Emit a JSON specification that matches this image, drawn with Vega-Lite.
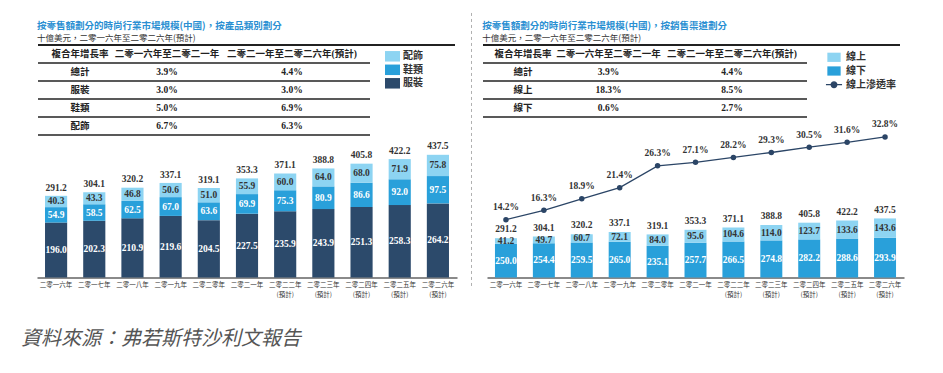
{
  "$schema": "https://vega.github.io/schema/vega-lite/v6.json",
  "background": "white",
  "padding": {"left": 21, "top": 12, "right": 5, "bottom": 5},
  "bounds": "flush",
  "spacing": 14.5,
  "config": {
    "view": {"stroke": null},
    "font": "Noto Sans CJK TC",
    "title": {"anchor": "start", "font": "Noto Sans CJK TC", "fontSize": 9.5, "fontWeight": "bold", "color": "#2a8fd2", "subtitleFont": "Noto Sans CJK TC", "subtitleFontSize": 8.5, "subtitleColor": "#333333", "subtitlePadding": 3.5, "offset": 2}
  },
  "title": {"text": "資料來源：弗若斯特沙利文報告", "orient": "bottom", "anchor": "start", "frame": "bounds", "fontSize": 20, "fontStyle": "italic", "fontWeight": "normal", "color": "#555555", "offset": 31, "dx": -16},
  "resolve": {"scale": {"color": "independent"}, "legend": {"color": "independent"}},
  "datasets": {
    "tabL": [
      {"r": 0, "c": 0, "t": "複合年增長率"}, {"r": 0, "c": 1, "t": "二零一六年至二零二一年"}, {"r": 0, "c": 2, "t": "二零二一年至二零二六年(預計)"},
      {"r": 1, "c": 0, "t": "總計"}, {"r": 1, "c": 1, "t": "3.9%"}, {"r": 1, "c": 2, "t": "4.4%"},
      {"r": 2, "c": 0, "t": "服裝"}, {"r": 2, "c": 1, "t": "3.0%"}, {"r": 2, "c": 2, "t": "3.0%"},
      {"r": 3, "c": 0, "t": "鞋類"}, {"r": 3, "c": 1, "t": "5.0%"}, {"r": 3, "c": 2, "t": "6.9%"},
      {"r": 4, "c": 0, "t": "配飾"}, {"r": 4, "c": 1, "t": "6.7%"}, {"r": 4, "c": 2, "t": "6.3%"}
    ],
    "tabR": [
      {"r": 0, "c": 0, "t": "複合年增長率"}, {"r": 0, "c": 1, "t": "二零一六年至二零二一年"}, {"r": 0, "c": 2, "t": "二零二一年至二零二六年(預計)"},
      {"r": 1, "c": 0, "t": "總計"}, {"r": 1, "c": 1, "t": "3.9%"}, {"r": 1, "c": 2, "t": "4.4%"},
      {"r": 2, "c": 0, "t": "線上"}, {"r": 2, "c": 1, "t": "18.3%"}, {"r": 2, "c": 2, "t": "8.5%"},
      {"r": 3, "c": 0, "t": "線下"}, {"r": 3, "c": 1, "t": "0.6%"}, {"r": 3, "c": 2, "t": "2.7%"}
    ],
    "years": [
      {"year": "二零一六年", "total": 291.2, "pct": 0.142},
      {"year": "二零一七年", "total": 304.1, "pct": 0.163},
      {"year": "二零一八年", "total": 320.2, "pct": 0.189},
      {"year": "二零一九年", "total": 337.1, "pct": 0.214},
      {"year": "二零二零年", "total": 319.1, "pct": 0.263},
      {"year": "二零二一年", "total": 353.3, "pct": 0.271},
      {"year": "二零二二年\n(預計)", "total": 371.1, "pct": 0.282},
      {"year": "二零二三年\n(預計)", "total": 388.8, "pct": 0.293},
      {"year": "二零二四年\n(預計)", "total": 405.8, "pct": 0.305},
      {"year": "二零二五年\n(預計)", "total": 422.2, "pct": 0.316},
      {"year": "二零二六年\n(預計)", "total": 437.5, "pct": 0.328}
    ],
    "barL": [
      {"year": "二零一六年", "series": "服裝", "k": 1, "v": 196.0}, {"year": "二零一六年", "series": "鞋類", "k": 2, "v": 54.9}, {"year": "二零一六年", "series": "配飾", "k": 3, "v": 40.3},
      {"year": "二零一七年", "series": "服裝", "k": 1, "v": 202.3}, {"year": "二零一七年", "series": "鞋類", "k": 2, "v": 58.5}, {"year": "二零一七年", "series": "配飾", "k": 3, "v": 43.3},
      {"year": "二零一八年", "series": "服裝", "k": 1, "v": 210.9}, {"year": "二零一八年", "series": "鞋類", "k": 2, "v": 62.5}, {"year": "二零一八年", "series": "配飾", "k": 3, "v": 46.8},
      {"year": "二零一九年", "series": "服裝", "k": 1, "v": 219.6}, {"year": "二零一九年", "series": "鞋類", "k": 2, "v": 67.0}, {"year": "二零一九年", "series": "配飾", "k": 3, "v": 50.6},
      {"year": "二零二零年", "series": "服裝", "k": 1, "v": 204.5}, {"year": "二零二零年", "series": "鞋類", "k": 2, "v": 63.6}, {"year": "二零二零年", "series": "配飾", "k": 3, "v": 51.0},
      {"year": "二零二一年", "series": "服裝", "k": 1, "v": 227.5}, {"year": "二零二一年", "series": "鞋類", "k": 2, "v": 69.9}, {"year": "二零二一年", "series": "配飾", "k": 3, "v": 55.9},
      {"year": "二零二二年\n(預計)", "series": "服裝", "k": 1, "v": 235.9}, {"year": "二零二二年\n(預計)", "series": "鞋類", "k": 2, "v": 75.3}, {"year": "二零二二年\n(預計)", "series": "配飾", "k": 3, "v": 60.0},
      {"year": "二零二三年\n(預計)", "series": "服裝", "k": 1, "v": 243.9}, {"year": "二零二三年\n(預計)", "series": "鞋類", "k": 2, "v": 80.9}, {"year": "二零二三年\n(預計)", "series": "配飾", "k": 3, "v": 64.0},
      {"year": "二零二四年\n(預計)", "series": "服裝", "k": 1, "v": 251.3}, {"year": "二零二四年\n(預計)", "series": "鞋類", "k": 2, "v": 86.6}, {"year": "二零二四年\n(預計)", "series": "配飾", "k": 3, "v": 68.0},
      {"year": "二零二五年\n(預計)", "series": "服裝", "k": 1, "v": 258.3}, {"year": "二零二五年\n(預計)", "series": "鞋類", "k": 2, "v": 92.0}, {"year": "二零二五年\n(預計)", "series": "配飾", "k": 3, "v": 71.9},
      {"year": "二零二六年\n(預計)", "series": "服裝", "k": 1, "v": 264.2}, {"year": "二零二六年\n(預計)", "series": "鞋類", "k": 2, "v": 97.5}, {"year": "二零二六年\n(預計)", "series": "配飾", "k": 3, "v": 75.8}
    ],
    "barR": [
      {"year": "二零一六年", "series": "線下", "k": 1, "v": 250.0}, {"year": "二零一六年", "series": "線上", "k": 2, "v": 41.2},
      {"year": "二零一七年", "series": "線下", "k": 1, "v": 254.4}, {"year": "二零一七年", "series": "線上", "k": 2, "v": 49.7},
      {"year": "二零一八年", "series": "線下", "k": 1, "v": 259.5}, {"year": "二零一八年", "series": "線上", "k": 2, "v": 60.7},
      {"year": "二零一九年", "series": "線下", "k": 1, "v": 265.0}, {"year": "二零一九年", "series": "線上", "k": 2, "v": 72.1},
      {"year": "二零二零年", "series": "線下", "k": 1, "v": 235.1}, {"year": "二零二零年", "series": "線上", "k": 2, "v": 84.0},
      {"year": "二零二一年", "series": "線下", "k": 1, "v": 257.7}, {"year": "二零二一年", "series": "線上", "k": 2, "v": 95.6},
      {"year": "二零二二年\n(預計)", "series": "線下", "k": 1, "v": 266.5}, {"year": "二零二二年\n(預計)", "series": "線上", "k": 2, "v": 104.6},
      {"year": "二零二三年\n(預計)", "series": "線下", "k": 1, "v": 274.8}, {"year": "二零二三年\n(預計)", "series": "線上", "k": 2, "v": 114.0},
      {"year": "二零二四年\n(預計)", "series": "線下", "k": 1, "v": 282.2}, {"year": "二零二四年\n(預計)", "series": "線上", "k": 2, "v": 123.7},
      {"year": "二零二五年\n(預計)", "series": "線下", "k": 1, "v": 288.6}, {"year": "二零二五年\n(預計)", "series": "線上", "k": 2, "v": 133.6},
      {"year": "二零二六年\n(預計)", "series": "線下", "k": 1, "v": 293.9}, {"year": "二零二六年\n(預計)", "series": "線上", "k": 2, "v": 143.6}
    ]
  },
  "hconcat": [
    {
      "width": 420,
      "height": 232.5,
      "title": {"text": "按零售額劃分的時尚行業市場規模(中國)，按產品類別劃分", "subtitle": "十億美元，二零一六年至二零二六年(預計)"},
      "layer": [
        {
          "data": {"name": "tabL"},
          "layer": [
            {
              "mark": {"type": "text", "font": "Liberation Serif, Noto Sans CJK TC", "fontSize": 9.5, "fontWeight": "bold", "color": "#222222"},
              "encoding": {
                "x": {"field": "c", "type": "quantitative", "scale": {"domain": [-1, 0, 1, 2, 3, 4], "range": [1, 43, 130, 255, 333, 418], "zero": false, "nice": false}, "axis": null},
                "y": {"field": "r", "type": "quantitative", "scale": {"domain": [-0.5, 12.4167], "reverse": true, "zero": false, "nice": false}, "axis": null},
                "text": {"field": "t"}
              }
            },
            {
              "transform": [{"filter": "datum.c == 0"}],
              "mark": {"type": "rule", "color": "#222222", "strokeWidth": 1.3, "yOffset": 9},
              "encoding": {
                "x": {"datum": -1, "type": "quantitative"},
                "x2": {"datum": 3},
                "y": {"field": "r", "type": "quantitative"}
              }
            },
            {
              "mark": {"type": "rule", "color": "#222222", "strokeWidth": 1.3},
              "encoding": {
                "x": {"datum": -1, "type": "quantitative"},
                "x2": {"datum": 4},
                "y": {"datum": -0.5, "type": "quantitative"}
              }
            }
          ]
        },
        {
          "layer": [
            {
              "data": {"name": "barL"},
              "mark": {"type": "bar"},
              "encoding": {
                "x": {"field": "year", "type": "nominal", "sort": null,
                  "scale": {"domain": ["二零一六年", "二零一七年", "二零一八年", "二零一九年", "二零二零年", "二零二一年", "二零二二年\n(預計)", "二零二三年\n(預計)", "二零二四年\n(預計)", "二零二五年\n(預計)", "二零二六年\n(預計)"], "paddingInner": 0.42, "paddingOuter": 0.21},
                  "axis": {"orient": "bottom", "title": null, "domainColor": "#8a8a8a", "domainWidth": 2, "ticks": false, "grid": false, "labelAngle": 0, "labelFont": "Noto Sans CJK TC", "labelFontSize": 6.5, "labelColor": "#333333", "labelPadding": 4, "labelLineHeight": 9.5, "labelOverlap": false, "labelExpr": "split(datum.label, '\\n')"}},
                "y": {"field": "v", "type": "quantitative", "stack": "zero", "scale": {"domain": [0, 829], "nice": false}, "axis": null},
                "color": {"field": "series", "type": "nominal",
                  "scale": {"domain": ["配飾", "鞋類", "服裝"], "range": ["#8dd4f2", "#29a0da", "#2c4a6b"]},
                  "legend": {"title": null, "orient": "none", "legendX": 348, "legendY": 3.8, "direction": "vertical", "symbolType": "M-1,-0.7H1V0.7H-1Z", "symbolSize": 225, "symbolStrokeWidth": 0, "labelFont": "Noto Sans CJK TC", "labelFontSize": 10, "labelFontWeight": "bold", "labelColor": "#333333", "labelOffset": 3, "rowPadding": 0.5, "padding": 0}},
                "order": {"field": "k", "type": "quantitative"}
              }
            },
            {
              "data": {"name": "barL"},
              "mark": {"type": "text", "font": "Liberation Serif", "fontSize": 9.5, "fontWeight": "bold"},
              "encoding": {
                "x": {"field": "year", "type": "nominal", "sort": null},
                "y": {"field": "v", "type": "quantitative", "stack": "zero", "bandPosition": 0.5},
                "detail": {"field": "series"},
                "order": {"field": "k", "type": "quantitative"},
                "text": {"field": "v", "format": ".1f"},
                "color": {"condition": {"test": "datum.series === '配飾'", "value": "#333333"}, "value": "white"}
              }
            },
            {
              "data": {"name": "years"},
              "mark": {"type": "text", "font": "Liberation Serif", "fontSize": 9.5, "fontWeight": "bold", "color": "#333333", "baseline": "middle", "dy": -8.3},
              "encoding": {
                "x": {"field": "year", "type": "nominal", "sort": null},
                "y": {"field": "total", "type": "quantitative"},
                "text": {"field": "total", "format": ".1f"}
              }
            }
          ]
        }
      ],
      "resolve": {"scale": {"x": "independent", "y": "independent"}}
    },
    {
      "width": 1,
      "height": 232.5,
      "data": {"values": [{}]},
      "mark": {"type": "rule", "color": "#b0b0b0", "strokeWidth": 1, "strokeDash": [3, 3]},
      "encoding": {
        "x": {"datum": 0, "type": "quantitative", "scale": {"domain": [0, 1], "zero": false, "nice": false}, "axis": null},
        "y": {"datum": -2.28, "type": "quantitative", "scale": {"domain": [-0.5, 12.4167], "reverse": true, "zero": false, "nice": false}, "axis": null},
        "y2": {"datum": 13.06}
      }
    },
    {
      "width": 417,
      "height": 232.5,
      "title": {"text": "按零售額劃分的時尚行業市場規模(中國)，按銷售渠道劃分", "subtitle": "十億美元，二零一六年至二零二六年(預計)"},
      "layer": [
        {
          "data": {"name": "tabR"},
          "layer": [
            {
              "mark": {"type": "text", "font": "Liberation Serif, Noto Sans CJK TC", "fontSize": 9.5, "fontWeight": "bold", "color": "#222222"},
              "encoding": {
                "x": {"field": "c", "type": "quantitative", "scale": {"domain": [-1, 0, 1, 2, 3, 4], "range": [-4, 36, 121.5, 245, 320, 413], "zero": false, "nice": false}, "axis": null},
                "y": {"field": "r", "type": "quantitative", "scale": {"domain": [-0.5, 12.4167], "reverse": true, "zero": false, "nice": false}, "axis": null},
                "text": {"field": "t"}
              }
            },
            {
              "transform": [{"filter": "datum.c == 0"}],
              "mark": {"type": "rule", "color": "#222222", "strokeWidth": 1.3, "yOffset": 9},
              "encoding": {
                "x": {"datum": -1, "type": "quantitative"},
                "x2": {"datum": 3},
                "y": {"field": "r", "type": "quantitative"}
              }
            },
            {
              "mark": {"type": "rule", "color": "#222222", "strokeWidth": 1.3},
              "encoding": {
                "x": {"datum": -1, "type": "quantitative"},
                "x2": {"datum": 4},
                "y": {"datum": -0.5, "type": "quantitative"}
              }
            }
          ]
        },
        {
          "layer": [
            {
              "layer": [
                {
                  "data": {"name": "barR"},
                  "mark": {"type": "bar"},
                  "encoding": {
                    "x": {"field": "year", "type": "nominal", "sort": null,
                      "scale": {"domain": ["二零一六年", "二零一七年", "二零一八年", "二零一九年", "二零二零年", "二零二一年", "二零二二年\n(預計)", "二零二三年\n(預計)", "二零二四年\n(預計)", "二零二五年\n(預計)", "二零二六年\n(預計)"], "paddingInner": 0.42, "paddingOuter": 0.21},
                      "axis": {"orient": "bottom", "title": null, "domainColor": "#8a8a8a", "domainWidth": 2, "ticks": false, "grid": false, "labelAngle": 0, "labelFont": "Noto Sans CJK TC", "labelFontSize": 6.5, "labelColor": "#333333", "labelPadding": 4, "labelLineHeight": 9.5, "labelOverlap": false, "labelExpr": "split(datum.label, '\\n')"}},
                    "y": {"field": "v", "type": "quantitative", "stack": "zero", "scale": {"domain": [0, 1722], "nice": false}, "axis": null},
                    "color": {"field": "series", "type": "nominal",
                      "scale": {"domain": ["線上", "線下", "線上滲透率"], "range": ["#8dd4f2", "#29a0da", "#2b4566"]},
                      "legend": {"title": null, "orient": "none", "legendX": 339, "legendY": 4.3, "direction": "vertical", "symbolType": "M-0.95,-0.66H0.95V0.66H-0.95Z", "symbolSize": 196, "symbolStrokeWidth": 0, "labelFont": "Noto Sans CJK TC", "labelFontSize": 10, "labelFontWeight": "bold", "labelColor": "#333333", "labelOffset": 4, "rowPadding": 0.7, "padding": 0,
                        "encode": {"symbols": {"update": {
                          "shape": {"signal": "datum.value === '線上滲透率' ? 'M-1.15,0H1.15M-0.4,0A0.4,0.4,0,1,1,0.4,0A0.4,0.4,0,1,1,-0.4,0Z' : 'M-0.95,-0.66H0.95V0.66H-0.95Z'"},
                          "stroke": {"signal": "datum.value === '線上滲透率' ? '#2b4566' : null"},
                          "strokeWidth": {"value": 1.3}
                        }}}}},
                    "order": {"field": "k", "type": "quantitative"}
                  }
                },
                {
                  "data": {"name": "barR"},
                  "mark": {"type": "text", "font": "Liberation Serif", "fontSize": 9.5, "fontWeight": "bold"},
                  "encoding": {
                    "x": {"field": "year", "type": "nominal", "sort": null},
                    "y": {"field": "v", "type": "quantitative", "stack": "zero", "bandPosition": 0.5},
                    "detail": {"field": "series"},
                    "order": {"field": "k", "type": "quantitative"},
                    "text": {"field": "v", "format": ".1f"},
                    "color": {"condition": {"test": "datum.series === '線上'", "value": "#333333"}, "value": "white"}
                  }
                },
                {
                  "data": {"name": "years"},
                  "mark": {"type": "text", "font": "Liberation Serif", "fontSize": 9.5, "fontWeight": "bold", "color": "#333333", "baseline": "middle", "dy": -8.8},
                  "encoding": {
                    "x": {"field": "year", "type": "nominal", "sort": null},
                    "y": {"field": "total", "type": "quantitative"},
                    "text": {"field": "total", "format": ".1f"}
                  }
                }
              ]
            },
            {
              "data": {"name": "years"},
              "layer": [
                {
                  "mark": {"type": "line", "color": "#2b4566", "strokeWidth": 1.3, "point": {"filled": true, "size": 30, "color": "#2b4566"}},
                  "encoding": {
                    "x": {"field": "year", "type": "nominal", "sort": null},
                    "y": {"field": "pct", "type": "quantitative", "scale": {"domain": [0.0119, 0.5348], "zero": false, "nice": false}, "axis": null}
                  }
                },
                {
                  "mark": {"type": "text", "font": "Liberation Serif", "fontSize": 9.5, "fontWeight": "bold", "color": "#333333", "baseline": "middle", "dy": -12.5},
                  "encoding": {
                    "x": {"field": "year", "type": "nominal", "sort": null},
                    "y": {"field": "pct", "type": "quantitative"},
                    "text": {"field": "pct", "format": ".1%"}
                  }
                }
              ]
            }
          ],
          "resolve": {"scale": {"y": "independent"}}
        }
      ],
      "resolve": {"scale": {"x": "independent", "y": "independent"}}
    }
  ]
}
